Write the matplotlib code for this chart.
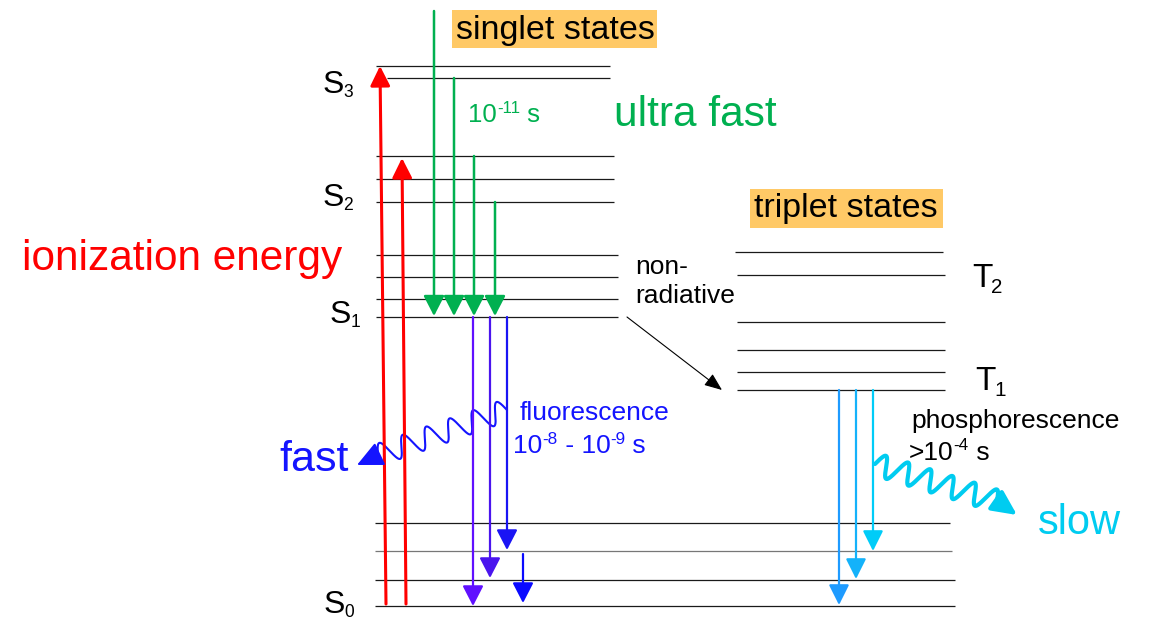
import numpy as np
import matplotlib
matplotlib.use("Agg")
import matplotlib.pyplot as plt
from matplotlib.patches import Rectangle

plt.rcParams["font.family"] = ["Liberation Sans", "DejaVu Sans"]

# energy levels (pixel rows, top = high energy)
singlet_y = [66, 78, 156, 179, 202, 255, 277, 299, 317]
ground_y = [523, 551, 580, 606]
triplet_y = [252, 275, 322, 350, 372, 390]

singlet_labels = [("S", "3"), ("S", "2"), ("S", "1"), ("S", "0")]
triplet_labels = [("T", "2"), ("T", "1")]

# transitions: x position, start row, end row
excite_x0 = [386, 406]
excite_x1 = [380, 402]
excite_from = [604, 604]
excite_to = [66, 158]

ic_x = [434, 454, 474, 495]
ic_from = [11, 78, 156, 202]
ic_to = [316, 316, 316, 316]

fluo_x = [473, 490, 507, 523]
fluo_from = [317, 317, 317, 554]
fluo_to = [606, 578, 550, 603]
fluo_colors = ["#6010FF", "#4A14EE", "#1A14F4", "#0A0AFF"]

phos_x = [839, 856, 873]
phos_from = [390, 390, 390]
phos_to = [605, 579, 551]
phos_colors = ["#1E9BFF", "#14B2FA", "#00CCF8"]

fig = plt.figure(figsize=(11.5, 6.23), dpi=100)
ax = fig.add_axes([0, 0, 1, 1])
ax.set_xlim(0, 1150)
ax.set_ylim(623, 0)
ax.axis("off")
renderer = fig.canvas.get_renderer()


def level(y, x0, x1, color="#1a1a1a"):
    ax.plot([x0, x1], [y, y], color=color, lw=0.9, solid_capstyle="butt")


def arrow(x0, y0, x1, y1, color, lw=1.5, hl=0.62, hw=0.32, ms=20):
    ax.annotate("", xy=(x1, y1), xytext=(x0, y0),
                arrowprops=dict(arrowstyle=f"-|>,head_length={hl},head_width={hw}",
                                color=color, lw=lw, shrinkA=0, shrinkB=0,
                                mutation_scale=ms))


def wavy(p0, p1, tip, amp, skew, cycles, color, lw, hl, hw):
    p0 = np.array(p0, float)
    p1 = np.array(p1, float)
    d = p1 - p0
    L = np.hypot(*d)
    u = d / L
    nrm = np.array([-u[1], u[0]])
    if nrm[1] > 0:  # make positive offsets point up on the page
        nrm = -nrm
    t = np.linspace(0, 1, 600)
    ph = 2 * np.pi * cycles * t
    along = t * L + skew * np.sin(ph)
    pts = p0 + np.outer(along, u) + np.outer(amp * np.sin(ph), nrm)
    ax.plot(pts[:, 0], pts[:, 1], color=color, lw=lw, solid_capstyle="round")
    arrow(pts[-1, 0], pts[-1, 1], tip[0], tip[1], color, lw=lw, hl=hl, hw=hw)


def rich(x, y, parts, size, color="black", sub_scale=0.55, sub_drop=0.16):
    # parts: (text, kind) with kind "n", "sup" or "sub"
    for s, kind in parts:
        if kind == "sup":
            t = ax.text(x, y - size * 0.5, s, fontsize=size * 0.65, color=color, va="baseline")
        elif kind == "sub":
            t = ax.text(x - 1, y + size * sub_drop, s, fontsize=size * sub_scale,
                        color=color, va="baseline")
        else:
            t = ax.text(x, y, s, fontsize=size, color=color, va="baseline")
        x += t.get_window_extent(renderer).width


# level lines
x_ends = [610, 610, 614, 614, 614, 618, 618, 618, 618]
x_starts = [376, 387, 376, 376, 376, 376, 376, 376, 376]
for y, a, b in zip(singlet_y, x_starts, x_ends):
    level(y, a, b)
for y, b, c in zip(ground_y, [950, 952, 955, 955], ["#1a1a1a", "#777777", "#1a1a1a", "#1a1a1a"]):
    level(y, 375, b, c)
for i, y in enumerate(triplet_y):
    level(y, 735 if i == 0 else 737, 943 if i == 0 else 945)

# absorption
for x0, x1, y0, y1 in zip(excite_x0, excite_x1, excite_from, excite_to):
    arrow(x0, y0, x1, y1, "#FF0000", lw=2.2, hl=0.6, hw=0.3)

# internal conversion
for x, y0, y1 in zip(ic_x, ic_from, ic_to):
    arrow(x, y0, x, y1, "#00B050", lw=1.8)

# fluorescence
for x, y0, y1, c in zip(fluo_x, fluo_from, fluo_to, fluo_colors):
    arrow(x, y0, x, y1, c, lw=1.6)

# phosphorescence
for x, y0, y1, c in zip(phos_x, phos_from, phos_to, phos_colors):
    arrow(x, y0, x, y1, c, lw=1.6, hw=0.31)

# intersystem crossing
arrow(627, 317, 722, 390, "black", lw=0.8, hl=0.6, hw=0.24, ms=18)

# emitted photons
wavy((507, 410), (378, 455), (357, 465), 11, 1.0, 5.5, "#1414FF", 1.5, 0.8, 0.38)
wavy((875, 464), (997, 501), (1017, 515), 11, 2.2, 5.5, "#00CCF0", 3.0, 0.75, 0.36)

# labels
ax.add_patch(Rectangle((452, 10), 205, 38, color="#FFC966", lw=0))
ax.text(555, 30, "singlet states", fontsize=24.5, ha="center", va="center")
ax.add_patch(Rectangle((750, 189), 193, 39, color="#FFC966", lw=0))
ax.text(846, 208, "triplet states", fontsize=24.5, ha="center", va="center")

ax.text(614, 126, "ultra fast", fontsize=30.5, color="#00B050", va="baseline")
rich(468, 122, [("10", "n"), ("-11", "sup"), (" s", "n")], 18.5, "#00B050")
ax.text(22, 270, "ionization energy", fontsize=30.5, color="#FF0000", va="baseline")
ax.text(279, 471, "fast", fontsize=31, color="#1414FF", va="baseline")
ax.text(1038, 534, "slow", fontsize=30, color="#00CCF0", va="baseline")
ax.text(520, 420, "fluorescence", fontsize=19, color="#1414FF", va="baseline")
rich(513, 453, [("10", "n"), ("-8", "sup"), (" - 10", "n"), ("-9", "sup"), (" s", "n")],
     19, "#1414FF")
ax.text(635, 274, "non-", fontsize=19, va="baseline")
ax.text(635, 303, "radiative", fontsize=19, va="baseline")
ax.text(911, 428, "phosphorescence", fontsize=19, va="baseline")
rich(909, 460, [(">10", "n"), ("-4", "sup"), (" s", "n")], 19)

for (a, b), x, y in zip(singlet_labels, [323, 323, 330, 324], [93, 206, 323, 613]):
    rich(x, y, [(a, "n"), (b, "sub")], 23)
for (a, b), x, y in zip(triplet_labels, [972, 975], [287, 390]):
    rich(x, y, [(a, "n"), (b, "sub")], 24, sub_scale=0.62, sub_drop=0.26)

fig.savefig("out.png", dpi=100)
